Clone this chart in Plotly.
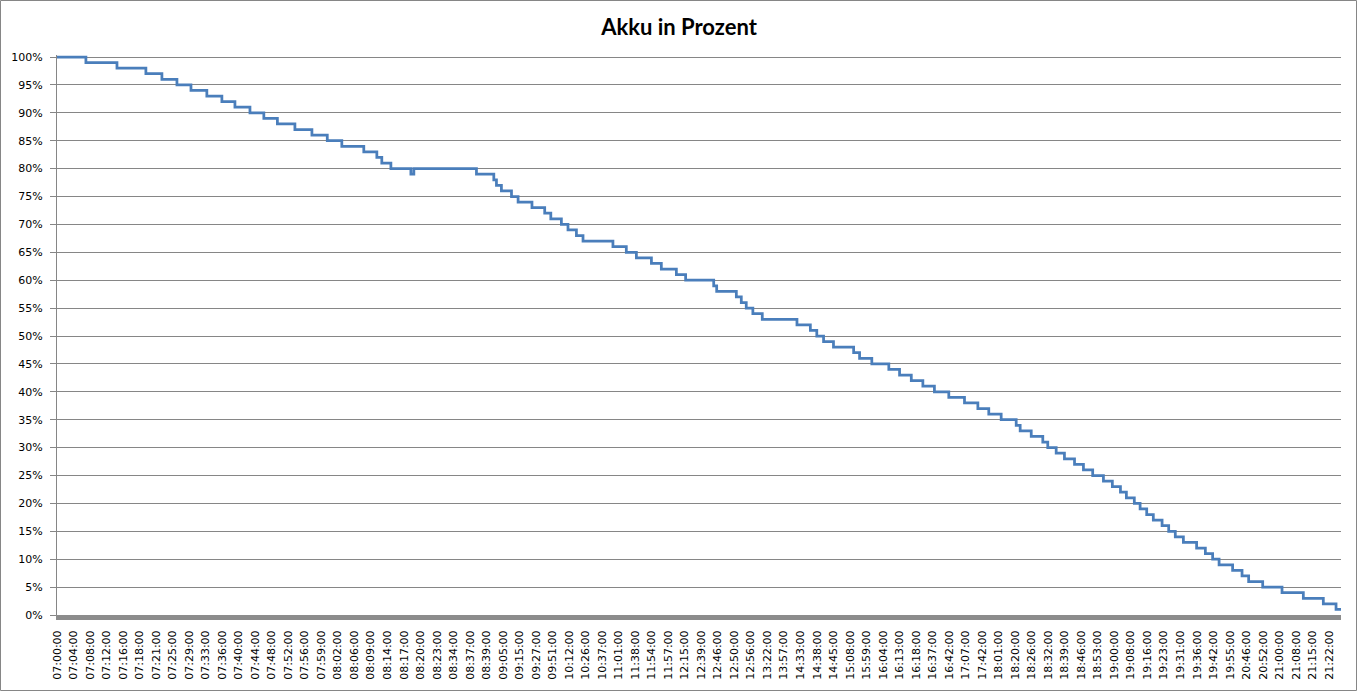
import plotly.graph_objects as go

# Category tick labels (every labelled category of the Excel category axis)
tick_labels = [
    "07:00:00", "07:04:00", "07:08:00", "07:12:00", "07:16:00", "07:18:00", "07:21:00", "07:25:00",
    "07:29:00", "07:33:00", "07:36:00", "07:40:00", "07:44:00", "07:48:00", "07:52:00", "07:56:00",
    "07:59:00", "08:02:00", "08:06:00", "08:09:00", "08:14:00", "08:17:00", "08:20:00", "08:23:00",
    "08:34:00", "08:37:00", "08:39:00", "09:05:00", "09:15:00", "09:27:00", "09:51:00", "10:12:00",
    "10:26:00", "10:37:00", "11:01:00", "11:38:00", "11:54:00", "11:57:00", "12:15:00", "12:39:00",
    "12:46:00", "12:50:00", "12:56:00", "13:22:00", "13:57:00", "14:33:00", "14:38:00", "14:45:00",
    "15:08:00", "15:59:00", "16:04:00", "16:13:00", "16:18:00", "16:37:00", "16:42:00", "17:07:00",
    "17:42:00", "18:01:00", "18:20:00", "18:26:00", "18:32:00", "18:39:00", "18:46:00", "18:53:00",
    "19:00:00", "19:08:00", "19:16:00", "19:23:00", "19:31:00", "19:36:00", "19:42:00", "19:55:00",
    "20:46:00", "20:52:00", "21:00:00", "21:08:00", "21:15:00", "21:22:00",
]

# Position along the category axis (in units of labelled categories) where the level changes
change_pos = [
    0.00, 1.75, 3.63, 5.38, 6.35, 7.26, 8.11, 9.07, 9.98, 10.77, 11.68, 12.52, 13.34, 14.40,
    15.43, 16.36, 17.24, 18.57, 19.36, 19.66, 20.21, 21.42, 21.60, 25.39, 26.44, 26.60, 26.90,
    27.51, 27.91, 28.75, 29.52, 29.89, 30.53, 30.93, 31.44, 31.84, 33.65, 34.46, 35.07, 35.98,
    36.58, 37.49, 38.05, 39.75, 39.93, 41.12, 41.42, 41.72, 42.12, 42.69, 44.79, 45.60, 45.99,
    46.40, 47.00, 48.22, 48.58, 49.32, 50.35, 51.00, 51.71, 52.41, 53.11, 53.98, 54.93, 55.74,
    56.40, 57.15, 58.06, 58.30, 58.97, 59.67, 59.97, 60.48, 60.98, 61.59, 62.13, 62.69, 63.34,
    63.88, 64.37, 64.73, 65.21, 65.56, 65.96, 66.36, 66.89, 67.29, 67.69, 68.18, 68.98, 69.51,
    69.95, 70.34, 71.16, 71.73, 72.13, 72.98, 74.15, 75.44, 76.65, 77.42, 77.72,
]
# Battery level (%) from that position on
level = [
    100, 99, 98, 97, 96, 95, 94, 93, 92, 91, 90, 89, 88, 87,
    86, 85, 84, 83, 82, 81, 80, 79, 80, 79, 78, 77, 76,
    75, 74, 73, 72, 71, 70, 69, 68, 67, 66, 65, 64, 63,
    62, 61, 60, 59, 58, 57, 56, 55, 54, 53, 52, 51, 50,
    49, 48, 47, 46, 45, 44, 43, 42, 41, 40, 39, 38, 37,
    36, 35, 34, 33, 32, 31, 30, 29, 28, 27, 26, 25, 24,
    23, 22, 21, 20, 19, 18, 17, 16, 15, 14, 13, 12, 11,
    10, 9, 8, 7, 6, 5, 4, 3, 2, 1, 1,
]

y_ticks = list(range(0, 101, 5))

W, H = 1358, 692
ML, MR, MT, MB = 57, 17, 55, 77
GRID = "#868686"

fig = go.Figure()
fig.add_trace(go.Scatter(
    x=change_pos, y=level, mode="lines", line_shape="hv",
    line=dict(color="#4a7ebb", width=2.75), hoverinfo="skip", showlegend=False,
))

fig.update_layout(
    width=W, height=H,
    margin=dict(l=ML, r=MR, t=MT, b=MB, pad=0),
    paper_bgcolor="white", plot_bgcolor="white",
    title=dict(text="<b>Akku in Prozent</b>", x=0.5, xanchor="center",
               y=1 - 27 / H, yanchor="middle", yref="container",
               font=dict(family="Lato", size=22, color="black")),
    font=dict(family="DejaVu Sans", size=11, color="black"),
)
fig.update_xaxes(
    range=[0, change_pos[-1]],
    tickmode="array", tickvals=list(range(len(tick_labels))), ticktext=tick_labels,
    tickangle=-90, showgrid=False, zeroline=False,
    showline=True, linecolor="#8c8c8c", linewidth=5,
    ticks="", ticklabelstandoff=6,
    tickfont=dict(family="DejaVu Sans", size=11, color="black"),
)
fig.update_yaxes(
    range=[0, 560 / 5.58],
    tickmode="array", tickvals=y_ticks, ticktext=[f"{v}%" for v in y_ticks],
    showgrid=True, gridcolor=GRID, gridwidth=1, zeroline=False,
    showline=True, linecolor=GRID, linewidth=1,
    ticks="outside", ticklen=6, tickcolor=GRID, ticklabelstandoff=5,
    tickfont=dict(family="DejaVu Sans", size=11, color="black"),
)

# outer chart border
pw, ph = W - ML - MR, H - MT - MB
fig.add_shape(type="rect", xref="paper", yref="paper",
              x0=-(ML - 0.5) / pw, x1=1 + (MR - 1.5) / pw,
              y0=-(MB - 1.5) / ph, y1=1 + (MT - 0.5) / ph,
              line=dict(color="#868686", width=1), fillcolor="rgba(0,0,0,0)", layer="below")

fig.write_html("out.html", config={"displayModeBar": False},
               post_script="document.body.style.margin='0';")
